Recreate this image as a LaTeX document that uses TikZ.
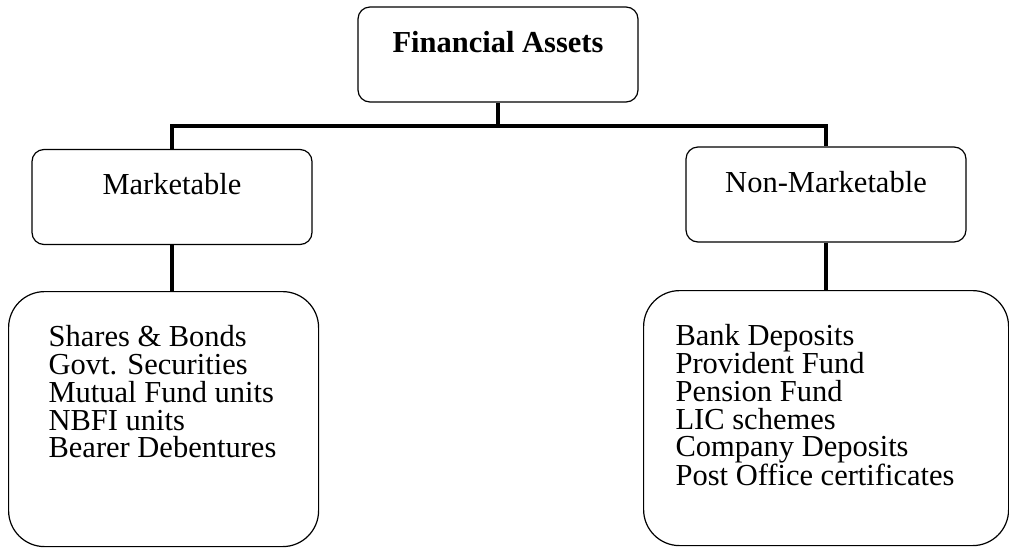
\documentclass[tikz,border=0pt]{standalone}
\usepackage{fontspec}
\setmainfont{Liberation Serif}
\usetikzlibrary{calc}

% left margin, box width, lines
\newcommand{\assetlist}[3]{\begin{minipage}[t]{#2}\leftskip=#1\relax #3\par\end{minipage}}

\tikzset{
	headbox/.style={draw, rounded corners=12pt, line width=1.2pt, minimum width=280pt, inner sep=0pt, text height=45pt, text depth=50pt, font=\fontsize{30.5}{28}\selectfont},
	listbox/.style={draw, rounded corners=36pt, line width=1.2pt, anchor=north west, inner sep=0pt, text height=55pt, text depth=200pt, font=\fontsize{30.5}{27.8}\selectfont},
	bus/.style={line width=4pt, line join=miter},
}

\begin{document}
\begin{tikzpicture}[x=1pt, y=-1pt]
	\useasboundingbox (0,0) rectangle (1009,547);
	
	\begin{scope}
		\node[headbox] (assets) at (498,54.5) {\bfseries Financial Assets};
		\node[headbox] (mkt) at (172,197) {Marketable};
		\node[headbox] (nonmkt) at (826,194.5) {Non-Marketable};
	\end{scope}
	
	\begin{scope}
		\node[listbox] (mktlist) at (8,291) {\assetlist{40pt}{310pt}{Shares \& Bonds\\Govt. Securities\\Mutual Fund units\\NBFI units\\Bearer Debentures}};
		\node[listbox] (nonmktlist) at (643,290) {\assetlist{32pt}{365pt}{Bank Deposits\\Provident Fund\\Pension Fund\\LIC schemes\\Company Deposits\\Post Office certificates}};
	\end{scope}
	
	\begin{scope}[bus]
		\coordinate (split) at (498,126);
		\draw (assets.south) -- (split);
		\draw (mkt.north) |- (split) -| (nonmkt.north);
		\draw (mkt.south) -- (mkt.south |- mktlist.north);
		\draw (nonmkt.south) -- (nonmkt.south |- nonmktlist.north);
	\end{scope}
\end{tikzpicture}
\end{document}
